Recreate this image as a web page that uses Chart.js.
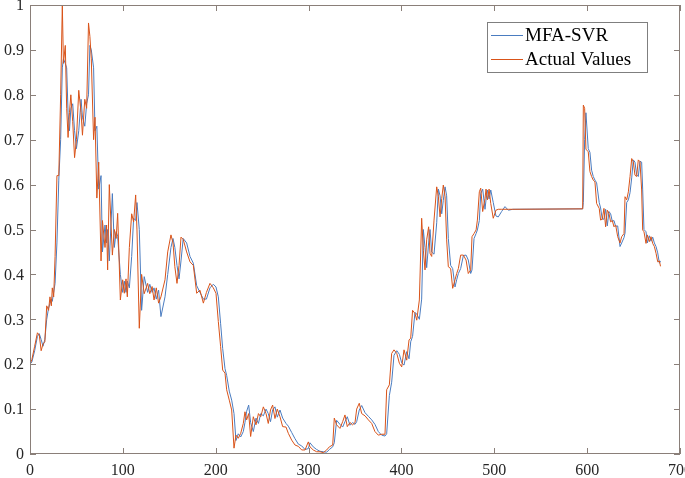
<!DOCTYPE html>
<html>
<head>
<meta charset="utf-8">
<script src="https://cdn.jsdelivr.net/npm/chart.js@4"></script>
<style>
  html, body { margin: 0; padding: 0; background: #fff; }
  #wrap { width: 685px; height: 478px; }
</style>
</head>
<body>
<div id="wrap"><canvas id="chart" width="685" height="478"></canvas></div>
<script>
// x positions of the samples
const xs = [0, 2, 5, 8, 10, 12, 14, 16, 18, 20, 21.5, 23, 24, 25.5, 27, 29, 31, 33, 34.8, 36, 38, 39.5, 41, 42.5, 44, 46, 48, 50, 52.5, 55, 56.5, 59, 61, 63, 64.5, 66, 68.5, 70, 72, 74, 76.5, 78, 80.8, 82.5, 83.6, 85.4, 88.7, 90.8, 92.8, 94.4, 97.3, 99.8, 101.6, 103.4, 104.8, 107, 109.5, 111.6, 113.8, 115.2, 117.7, 120.2, 123, 126.7, 129, 131.5, 133.6, 136, 138.5, 141, 145.4, 148.3, 151.8, 154, 156, 158.3, 160.5, 162.6, 165, 168.7, 172.3, 175.9, 179.5, 183, 186.7, 190, 193.8, 197.4, 200.3, 202.8, 205.3, 207.5, 210, 211.8, 214.6, 217.2, 219.7, 221.8, 224.3, 226.9, 229.7, 231.5, 233.3, 235.5, 237.6, 240.5, 243.4, 246, 248.5, 251.3, 254.2, 256.6, 259, 261.3, 263.8, 266.3, 269.2, 272.1, 275.7, 278.2, 281.8, 285.4, 289, 292.6, 296.2, 299.7, 301.5, 305, 308.7, 312.3, 315.9, 319.5, 322.4, 326, 327.7, 330.2, 333.8, 336.7, 339.2, 341.7, 344.6, 347.4, 350, 351.8, 354.6, 357.2, 360.8, 364.4, 368, 371.5, 375.1, 378.7, 382.3, 384.1, 387, 389.5, 392, 395, 397.8, 400.3, 402.8, 405.7, 408.2, 410, 412, 414.6, 416.5, 419.3, 421.8, 423.6, 425.4, 427.2, 429.3, 430.8, 432.6, 435.1, 438, 439.8, 441.6, 443.4, 445.1, 447, 448.7, 450.5, 453, 455.2, 457.7, 459.5, 461.3, 463.8, 466.7, 469.6, 472, 474.6, 476, 478.2, 480.4, 481.8, 483.9, 485.4, 487.5, 490, 491.1, 492.6, 494.4, 496.2, 498.9, 501.8, 504.3, 507.9, 511.5, 515.1, 520, 595.2, 595.9, 597.3, 598.7, 601.2, 603, 604.8, 606.6, 608.4, 610.2, 613, 614.5, 616.3, 618.1, 619.9, 621.7, 623.5, 625.3, 627.1, 628.9, 630.7, 632.9, 635.4, 637.2, 639.7, 640.8, 642.6, 644.4, 646.2, 648, 649.7, 651.5, 653.3, 655.1, 656.9, 658.7, 659.8, 661.2, 663.4, 664.8, 667, 668.8, 670.6, 672.4, 674.2, 676, 677.8, 679];

const actualValues = [0.200, 0.210, 0.240, 0.270, 0.265, 0.230, 0.245, 0.250, 0.330, 0.320, 0.350, 0.330, 0.370, 0.350, 0.440, 0.620, 0.620, 0.800, 1.000, 0.870, 0.910, 0.770, 0.705, 0.760, 0.800, 0.740, 0.660, 0.700, 0.810, 0.760, 0.710, 0.790, 0.770, 0.960, 0.930, 0.880, 0.700, 0.750, 0.570, 0.650, 0.430, 0.520, 0.460, 0.510, 0.410, 0.600, 0.443, 0.500, 0.480, 0.536, 0.343, 0.388, 0.358, 0.390, 0.350, 0.460, 0.535, 0.517, 0.577, 0.499, 0.280, 0.400, 0.357, 0.380, 0.357, 0.373, 0.343, 0.370, 0.336, 0.350, 0.388, 0.450, 0.488, 0.470, 0.417, 0.380, 0.420, 0.483, 0.478, 0.450, 0.428, 0.420, 0.358, 0.365, 0.336, 0.360, 0.380, 0.370, 0.358, 0.295, 0.239, 0.187, 0.180, 0.143, 0.120, 0.098, 0.013, 0.042, 0.035, 0.046, 0.068, 0.094, 0.076, 0.090, 0.039, 0.083, 0.065, 0.090, 0.083, 0.105, 0.090, 0.068, 0.098, 0.109, 0.079, 0.100, 0.083, 0.061, 0.060, 0.046, 0.031, 0.020, 0.017, 0.009, 0.009, 0.027, 0.016, 0.009, 0.005, 0.005, 0.003, 0.009, 0.016, 0.020, 0.080, 0.065, 0.057, 0.072, 0.087, 0.061, 0.070, 0.065, 0.070, 0.100, 0.113, 0.090, 0.085, 0.076, 0.068, 0.050, 0.042, 0.044, 0.044, 0.143, 0.154, 0.224, 0.232, 0.224, 0.202, 0.194, 0.232, 0.209, 0.254, 0.258, 0.320, 0.313, 0.298, 0.343, 0.525, 0.454, 0.410, 0.477, 0.506, 0.447, 0.440, 0.521, 0.595, 0.573, 0.528, 0.569, 0.599, 0.573, 0.477, 0.417, 0.413, 0.369, 0.388, 0.402, 0.413, 0.443, 0.443, 0.432, 0.402, 0.410, 0.484, 0.491, 0.499, 0.521, 0.584, 0.592, 0.540, 0.569, 0.590, 0.566, 0.590, 0.558, 0.525, 0.543, 0.545, 0.545, 0.545, 0.545, 0.545, 0.546, 0.777, 0.770, 0.679, 0.673, 0.629, 0.618, 0.610, 0.606, 0.558, 0.547, 0.521, 0.523, 0.547, 0.506, 0.543, 0.536, 0.517, 0.520, 0.506, 0.510, 0.484, 0.470, 0.484, 0.491, 0.573, 0.566, 0.584, 0.618, 0.658, 0.651, 0.621, 0.618, 0.655, 0.651, 0.588, 0.499, 0.495, 0.469, 0.488, 0.473, 0.484, 0.469, 0.462, 0.447, 0.428, 0.430, 0.418];

const mfaSvrValues = [0.200, 0.205, 0.230, 0.262, 0.268, 0.255, 0.240, 0.255, 0.300, 0.325, 0.335, 0.345, 0.340, 0.360, 0.380, 0.470, 0.610, 0.700, 0.860, 0.880, 0.870, 0.860, 0.760, 0.720, 0.770, 0.780, 0.720, 0.680, 0.720, 0.790, 0.750, 0.730, 0.780, 0.800, 0.910, 0.900, 0.860, 0.720, 0.730, 0.590, 0.620, 0.450, 0.510, 0.470, 0.500, 0.430, 0.580, 0.460, 0.495, 0.485, 0.400, 0.360, 0.385, 0.360, 0.385, 0.370, 0.440, 0.525, 0.520, 0.560, 0.500, 0.320, 0.395, 0.360, 0.378, 0.360, 0.370, 0.345, 0.365, 0.306, 0.350, 0.400, 0.460, 0.480, 0.460, 0.420, 0.390, 0.430, 0.480, 0.470, 0.440, 0.425, 0.375, 0.360, 0.345, 0.345, 0.370, 0.378, 0.372, 0.350, 0.290, 0.235, 0.190, 0.175, 0.140, 0.120, 0.090, 0.030, 0.045, 0.038, 0.050, 0.070, 0.095, 0.109, 0.070, 0.050, 0.080, 0.068, 0.090, 0.085, 0.100, 0.090, 0.072, 0.098, 0.105, 0.082, 0.098, 0.080, 0.068, 0.062, 0.048, 0.034, 0.022, 0.018, 0.010, 0.012, 0.025, 0.016, 0.010, 0.006, 0.005, 0.004, 0.010, 0.016, 0.025, 0.075, 0.066, 0.060, 0.072, 0.083, 0.064, 0.070, 0.066, 0.072, 0.098, 0.108, 0.092, 0.084, 0.076, 0.066, 0.050, 0.042, 0.040, 0.045, 0.130, 0.160, 0.220, 0.230, 0.222, 0.203, 0.198, 0.228, 0.212, 0.250, 0.262, 0.315, 0.312, 0.300, 0.345, 0.500, 0.460, 0.415, 0.470, 0.500, 0.450, 0.445, 0.515, 0.590, 0.575, 0.535, 0.565, 0.595, 0.575, 0.480, 0.420, 0.413, 0.372, 0.388, 0.402, 0.413, 0.442, 0.443, 0.432, 0.402, 0.410, 0.480, 0.491, 0.499, 0.520, 0.580, 0.590, 0.545, 0.566, 0.588, 0.568, 0.588, 0.560, 0.530, 0.528, 0.540, 0.551, 0.543, 0.545, 0.546, 0.560, 0.700, 0.760, 0.680, 0.672, 0.632, 0.618, 0.610, 0.604, 0.560, 0.548, 0.523, 0.523, 0.545, 0.508, 0.540, 0.535, 0.518, 0.520, 0.507, 0.508, 0.462, 0.470, 0.482, 0.492, 0.560, 0.566, 0.582, 0.615, 0.655, 0.650, 0.622, 0.618, 0.652, 0.650, 0.590, 0.500, 0.495, 0.470, 0.486, 0.474, 0.483, 0.470, 0.462, 0.448, 0.425, 0.430];

const xTicks = [0, 100, 200, 300, 400, 500, 600, 700];
const yTicks = [0, 0.1, 0.2, 0.3, 0.4, 0.5, 0.6, 0.7, 0.8, 0.9, 1];
const seriesNames = ["MFA-SVR", "Actual Values"];
const seriesColors = ["#4a7cc0", "#d95319"];

const FONT = "'Liberation Serif', 'Times New Roman', serif";
const AXIS_COLOR = "#8a7f79";

function toPoints(vals) {
  return vals.map((v, i) => ({ x: xs[i], y: v }));
}

// box round the plot, inside ticks on all four sides, tick labels and legend
const boxPlugin = {
  id: "box",
  afterDraw(chart) {
    const { ctx, chartArea: a, scales } = chart;
    ctx.save();
    ctx.strokeStyle = AXIS_COLOR;
    ctx.lineWidth = 1;
    ctx.strokeRect(a.left + 0.5, a.top + 0.5, a.right - a.left - 1, a.bottom - a.top - 1);
    ctx.beginPath();
    xTicks.forEach((t) => {
      const px = Math.round(scales.x.getPixelForValue(t)) + 0.5;
      ctx.moveTo(px, a.bottom);
      ctx.lineTo(px, a.bottom - 6);
      ctx.moveTo(px, a.top);
      ctx.lineTo(px, a.top + 6);
    });
    yTicks.forEach((t) => {
      const py = Math.round(scales.y.getPixelForValue(t)) + 0.5;
      ctx.moveTo(a.left, py);
      ctx.lineTo(a.left + 6, py);
      ctx.moveTo(a.right, py);
      ctx.lineTo(a.right - 6, py);
    });
    ctx.stroke();

    // tick labels
    ctx.fillStyle = "#262626";
    ctx.font = "16px " + FONT;
    ctx.textAlign = "center";
    ctx.textBaseline = "middle";
    xTicks.forEach((t) => {
      ctx.fillText(String(t), scales.x.getPixelForValue(t), a.bottom + 17);
    });
    ctx.textAlign = "right";
    yTicks.forEach((t) => {
      ctx.fillText(String(t), a.left - 6, scales.y.getPixelForValue(t) + 1);
    });

    // legend
    const bx = a.right - 193, by = a.top + 17, bw = 160, bh = 50;
    ctx.fillStyle = "#fff";
    ctx.fillRect(bx, by, bw, bh);
    ctx.strokeStyle = "#7f7f7f";
    ctx.strokeRect(bx + 0.5, by + 0.5, bw, bh);
    ctx.font = "19px " + FONT;
    ctx.textAlign = "left";
    seriesNames.forEach((name, i) => {
      const ly = by + 13 + i * 24;
      ctx.save();
      ctx.strokeStyle = seriesColors[i];
      ctx.beginPath();
      ctx.moveTo(bx + 4, ly + 0.5);
      ctx.lineTo(bx + 36, ly + 0.5);
      ctx.stroke();
      ctx.restore();
      ctx.fillStyle = "#000";
      ctx.fillText(name, bx + 38, ly + 1);
    });
    ctx.restore();
  }
};

new Chart(document.getElementById("chart"), {
  type: "line",
  data: {
    datasets: [
      {
        label: seriesNames[0],
        data: toPoints(mfaSvrValues),
        borderColor: seriesColors[0],
        borderWidth: 1,
        pointRadius: 0,
        order: 2,
      },
      {
        label: seriesNames[1],
        data: toPoints(actualValues),
        borderColor: seriesColors[1],
        borderWidth: 1,
        pointRadius: 0,
        order: 1,
      },
    ],
  },
  options: {
    responsive: false,
    animation: false,
    layout: { padding: { top: 5, right: 5, left: 0, bottom: 0 } },
    plugins: {
      legend: { display: false },
      tooltip: { enabled: false },
    },
    scales: {
      x: {
        type: "linear",
        min: 0,
        max: 700,
        afterBuildTicks: (s) => { s.ticks = xTicks.map((v) => ({ value: v })); },
        afterFit: (s) => { s.height = 24; s.paddingLeft = 0; s.paddingRight = 0; },
        grid: { display: false, drawTicks: false },
        border: { display: false },
        ticks: { display: false },
      },
      y: {
        type: "linear",
        min: 0,
        max: 1,
        afterBuildTicks: (s) => { s.ticks = yTicks.map((v) => ({ value: v })); },
        afterFit: (s) => { s.width = 30; s.paddingTop = 0; s.paddingBottom = 0; },
        grid: { display: false, drawTicks: false },
        border: { display: false },
        ticks: { display: false },
      },
    },
  },
  plugins: [boxPlugin],
});
</script>
</body>
</html>
